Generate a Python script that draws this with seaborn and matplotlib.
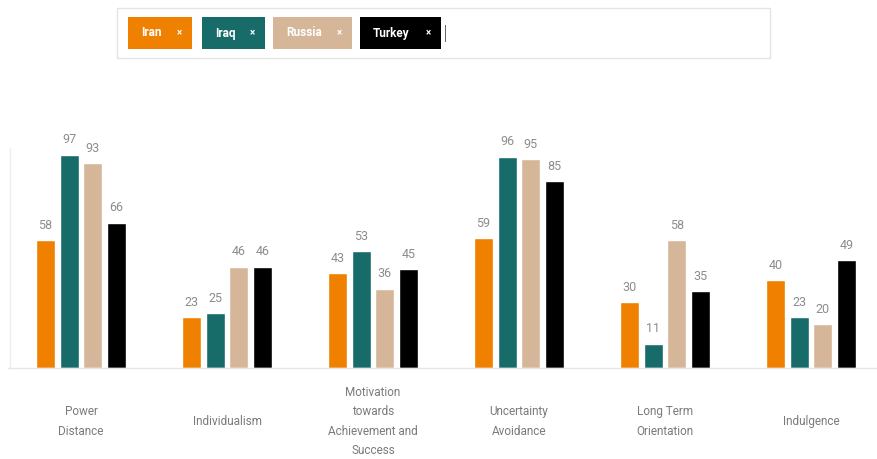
import matplotlib
matplotlib.use("Agg")
import matplotlib.pyplot as plt
import seaborn as sns
import pandas as pd
from matplotlib.patches import Rectangle

categories = ["Power\nDistance", "Individualism",
              "Motivation\ntowards\nAchievement and\nSuccess",
              "Uncertainty\nAvoidance", "Long Term\nOrientation", "Indulgence"]
countries = ["Iran", "Iraq", "Russia", "Turkey"]
iran = [58, 23, 43, 59, 30, 40]
iraq = [97, 25, 53, 96, 11, 23]
russia = [93, 46, 36, 95, 58, 20]
turkey = [66, 46, 45, 85, 35, 49]
colors = ["#F08000", "#176C6A", "#D6B698", "#000000"]

rows = []
for c, vals in zip(countries, [iran, iraq, russia, turkey]):
    for cat, v in zip(categories, vals):
        rows.append({"cat": cat, "country": c, "value": v})
df = pd.DataFrame(rows)

sns.set_theme(style="white")
plt.rcParams["font.family"] = ["Roboto", "DejaVu Sans"]

W, H = 877, 459
fig = plt.figure(figsize=(W / 100, H / 100), dpi=100)
base_y = 368
px_per_unit = 2.2
ymax = 100
top_px = base_y - ymax * px_per_unit
ax = fig.add_axes([8 / W, (H - base_y) / H, 876 / W, (base_y - top_px) / H])

sns.barplot(data=df, x="cat", y="value", hue="country", hue_order=countries,
            order=categories, palette=colors, width=0.65, gap=0.2,
            saturation=1, ax=ax, legend=False)
ax.set_xlim(-0.5, 5.5)
ax.set_ylim(0, ymax)
for cont in ax.containers:
    ax.bar_label(cont, padding=6, color="#8c8c8c", fontsize=9, clip_on=False)

ax.set_xlabel("")
ax.set_ylabel("")
ax.set_yticks([])
ax.tick_params(axis="x", length=0, pad=14, labelsize=8.5, labelcolor="#7a7a7a")
for lab in ax.get_xticklabels():
    lab.set_linespacing(1.65)
    lab.set_verticalalignment("center")
    lab.set_y(-0.155)
for s in ["top", "right"]:
    ax.spines[s].set_visible(False)
ax.spines["bottom"].set_color("#e6e6e6")
ax.spines["bottom"].set_linewidth(1)
ax.spines["left"].set_color("#eeeeee")
ax.spines["left"].set_linewidth(1)
ax.spines["left"].set_bounds(0, 100)
ax.spines["left"].set_position(("data", -0.485))

def fx(x):
    return x / W
def fy(y):
    return 1 - y / H

box = Rectangle((fx(117), fy(58)), (770 - 117) / W, 50 / H, transform=fig.transFigure,
                facecolor="white", edgecolor="#e4e4e4", linewidth=1)
fig.patches.append(box)
chips = [(128, 192), (202, 265), (273, 352), (360, 441)]
for (x0, x1), name, col in zip(chips, countries, colors):
    r = Rectangle((fx(x0), fy(49)), (x1 - x0) / W, 32 / H, transform=fig.transFigure,
                  facecolor=col, edgecolor="none")
    fig.patches.append(r)
    fig.text(fx(x0 + 13), fy(33), name, color="white", fontsize=8.5, fontweight="bold",
             ha="left", va="center")
    fig.text(fx(x1 - 13), fy(33), "×", color="white", fontsize=7, fontweight="bold",
             ha="center", va="center")
cursor = Rectangle((fx(445), fy(42)), 1.2 / W, 17 / H, transform=fig.transFigure,
                   facecolor="#666666", edgecolor="none")
fig.patches.append(cursor)

fig.savefig("out.png", dpi=100)
